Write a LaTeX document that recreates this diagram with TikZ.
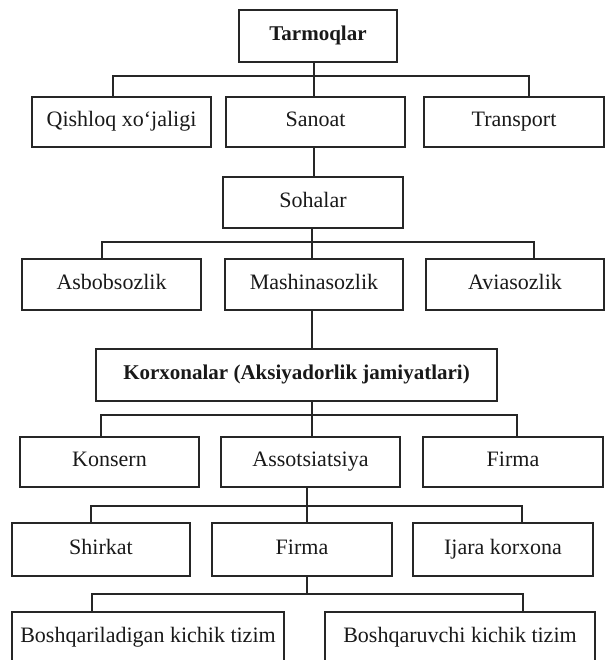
\documentclass[tikz,border=0pt]{standalone}
\usepackage{fontspec}
\setmainfont{Liberation Serif}
\begin{document}
\begin{tikzpicture}[x=1pt,y=-1pt,
  box/.style={draw=black!85, line width=1.6pt, inner sep=0pt, outer sep=0pt,
    font=\fontsize{22}{25}\selectfont, text=black!90,
    text height=14.5pt, text depth=4.8pt},
  boldbox/.style={box, font=\fontsize{21}{24}\selectfont\bfseries},
  conn/.style={draw=black!85, line width=1.4pt}]
\useasboundingbox (0,0) rectangle (605,660);
\clip (0,0) rectangle (605,660);
% nodes
\node[boldbox, minimum width=158pt, minimum height=52pt] (tarm) at (318,36) {Tarmoqlar};
\node[box, minimum width=179pt, minimum height=50pt] (qish) at (121.5,122) {Qishloq xo‘jaligi};
\node[box, minimum width=179pt, minimum height=50pt] (sanoat) at (315.5,122) {Sanoat};
\node[box, minimum width=180pt, minimum height=50pt] (trans) at (514,122) {Transport};
\node[box, minimum width=180pt, minimum height=51pt] (soha) at (313,202.5) {Sohalar};
\node[box, minimum width=179pt, minimum height=51pt] (asbob) at (111.5,284.5) {Asbobsozlik};
\node[box, minimum width=178pt, minimum height=51pt] (mash) at (314,284.5) {Mashinasozlik};
\node[box, minimum width=178pt, minimum height=51pt] (avia) at (515,284.5) {Aviasozlik};
\node[boldbox, minimum width=401pt, minimum height=52pt] (korx) at (296.5,375) {Korxonalar (Aksiyadorlik jamiyatlari)};
\node[box, minimum width=179pt, minimum height=50pt] (kons) at (109.5,462) {Konsern};
\node[box, minimum width=179pt, minimum height=50pt] (assot) at (310.5,462) {Assotsiatsiya};
\node[box, minimum width=180pt, minimum height=50pt] (firmaA) at (513,462) {Firma};
\node[box, minimum width=178pt, minimum height=53pt] (shirk) at (101,549.5) {Shirkat};
\node[box, minimum width=180pt, minimum height=53pt] (firmaB) at (302,549.5) {Firma};
\node[box, minimum width=180pt, minimum height=53pt] (ijara) at (503,549.5) {Ijara korxona};
\node[box, minimum width=272pt, minimum height=52pt] (bqa) at (148,638) {Boshqariladigan kichik tizim};
\node[box, minimum width=270pt, minimum height=52pt] (bqb) at (460,638) {Boshqaruvchi kichik tizim};
% level 1
\coordinate (va) at (314,76);
\coordinate (a1) at (113,76);
\coordinate (a2) at (529,76);
\draw[conn] (va |- tarm.south) -- (va |- sanoat.north);
\draw[conn] (a1 |- qish.north) -- (a1) -- (a2) -- (a2 |- trans.north);
\draw[conn] (va |- sanoat.south) -- (va |- soha.north);
% level 2
\coordinate (vb) at (312,242);
\coordinate (b1) at (102,242);
\coordinate (b2) at (534,242);
\draw[conn] (vb |- soha.south) -- (vb |- mash.north);
\draw[conn] (b1 |- asbob.north) -- (b1) -- (b2) -- (b2 |- avia.north);
\draw[conn] (vb |- mash.south) -- (vb |- korx.north);
% level 3
\coordinate (c1) at (101,415);
\coordinate (c2) at (517,415);
\draw[conn] (vb |- korx.south) -- (vb |- assot.north);
\draw[conn] (c1 |- kons.north) -- (c1) -- (c2) -- (c2 |- firmaA.north);
% level 4
\coordinate (vd) at (307,506);
\coordinate (d1) at (91,506);
\coordinate (d2) at (522,506);
\draw[conn] (vd |- assot.south) -- (vd |- firmaB.north);
\draw[conn] (d1 |- shirk.north) -- (d1) -- (d2) -- (d2 |- ijara.north);
% level 5
\coordinate (ve) at (307,594);
\coordinate (e1) at (92,594);
\coordinate (e2) at (523,594);
\draw[conn] (ve |- firmaB.south) -- (ve);
\draw[conn] (e1 |- bqa.north) -- (e1) -- (e2) -- (e2 |- bqb.north);
\end{tikzpicture}
\end{document}
